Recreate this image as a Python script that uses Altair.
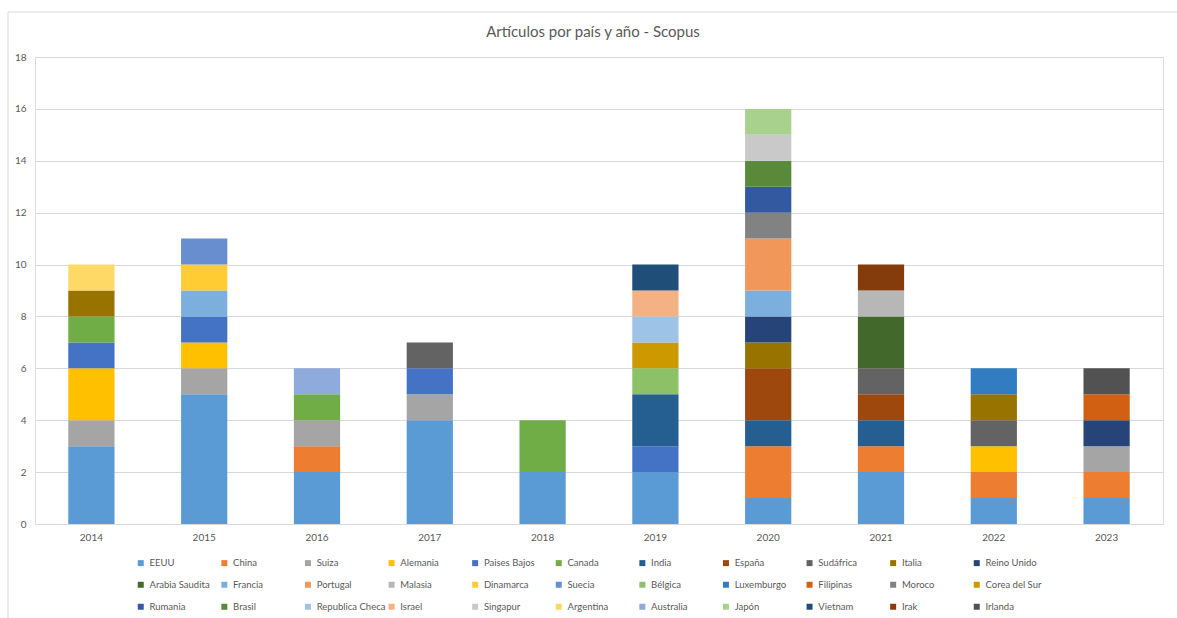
import altair as alt
import pandas as pd

years = ["2014", "2015", "2016", "2017", "2018", "2019", "2020", "2021", "2022", "2023"]

countries = [
    "EEUU", "China", "Suiza", "Alemania", "Paises Bajos", "Canada", "India", "España",
    "Sudáfrica", "Italia", "Reino Unido", "Arabia Saudita", "Francia", "Portugal",
    "Malasia", "Dinamarca", "Suecia", "Bélgica", "Luxemburgo", "Filipinas", "Moroco",
    "Corea del Sur", "Rumania", "Brasil", "Republica Checa", "Israel", "Singapur",
    "Argentina", "Australia", "Japón", "Vietnam", "Irak", "Irlanda",
]

colors = [
    "#5B9BD5", "#ED7D31", "#A5A5A5", "#FFC000", "#4472C4", "#70AD47", "#255E91", "#9E480E",
    "#636363", "#997300", "#264478", "#43682B", "#7CAFDD", "#F1975A", "#B7B7B7", "#FFCD33",
    "#698ED0", "#8CC168", "#327DC2", "#D26012", "#828282", "#CC9A00", "#335AA1", "#5A8A39",
    "#9DC3E6", "#F4B183", "#C9C9C9", "#FFD966", "#8FAADC", "#A9D18E", "#1F4E79", "#843C0C",
    "#525252",
]

# articles per country, one value per year (2014 .. 2023)
counts = {
    "EEUU":            [3, 5, 2, 4, 2, 2, 1, 2, 1, 1],
    "China":           [0, 0, 1, 0, 0, 0, 2, 1, 1, 1],
    "Suiza":           [1, 1, 1, 1, 0, 0, 0, 0, 0, 1],
    "Alemania":        [2, 1, 0, 0, 0, 0, 0, 0, 1, 0],
    "Paises Bajos":    [1, 1, 0, 1, 0, 1, 0, 0, 0, 0],
    "Canada":          [1, 0, 1, 0, 2, 0, 0, 0, 0, 0],
    "India":           [0, 0, 0, 0, 0, 2, 1, 1, 0, 0],
    "España":          [0, 0, 0, 0, 0, 0, 2, 1, 0, 0],
    "Sudáfrica":       [0, 0, 0, 1, 0, 0, 0, 1, 1, 0],
    "Italia":          [1, 0, 0, 0, 0, 0, 1, 0, 1, 0],
    "Reino Unido":     [0, 0, 0, 0, 0, 0, 1, 0, 0, 1],
    "Arabia Saudita":  [0, 0, 0, 0, 0, 0, 0, 2, 0, 0],
    "Francia":         [0, 1, 0, 0, 0, 0, 1, 0, 0, 0],
    "Portugal":        [0, 0, 0, 0, 0, 0, 2, 0, 0, 0],
    "Malasia":         [0, 0, 0, 0, 0, 0, 0, 1, 0, 0],
    "Dinamarca":       [0, 1, 0, 0, 0, 0, 0, 0, 0, 0],
    "Suecia":          [0, 1, 0, 0, 0, 0, 0, 0, 0, 0],
    "Bélgica":         [0, 0, 0, 0, 0, 1, 0, 0, 0, 0],
    "Luxemburgo":      [0, 0, 0, 0, 0, 0, 0, 0, 1, 0],
    "Filipinas":       [0, 0, 0, 0, 0, 0, 0, 0, 0, 1],
    "Moroco":          [0, 0, 0, 0, 0, 0, 1, 0, 0, 0],
    "Corea del Sur":   [0, 0, 0, 0, 0, 1, 0, 0, 0, 0],
    "Rumania":         [0, 0, 0, 0, 0, 0, 1, 0, 0, 0],
    "Brasil":          [0, 0, 0, 0, 0, 0, 1, 0, 0, 0],
    "Republica Checa": [0, 0, 0, 0, 0, 1, 0, 0, 0, 0],
    "Israel":          [0, 0, 0, 0, 0, 1, 0, 0, 0, 0],
    "Singapur":        [0, 0, 0, 0, 0, 0, 1, 0, 0, 0],
    "Argentina":       [1, 0, 0, 0, 0, 0, 0, 0, 0, 0],
    "Australia":       [0, 0, 1, 0, 0, 0, 0, 0, 0, 0],
    "Japón":           [0, 0, 0, 0, 0, 0, 1, 0, 0, 0],
    "Vietnam":         [0, 0, 0, 0, 0, 1, 0, 0, 0, 0],
    "Irak":            [0, 0, 0, 0, 0, 0, 0, 1, 0, 0],
    "Irlanda":         [0, 0, 0, 0, 0, 0, 0, 0, 0, 1],
}

y_ticks = [0, 2, 4, 6, 8, 10, 12, 14, 16, 18]

rows = []
for order, name in enumerate(countries):
    for year, n in zip(years, counts[name]):
        if n > 0:
            rows.append({"Año": year, "País": name, "Artículos": n, "orden": order})
df = pd.DataFrame(rows)

FONT = "Lato"
GREY_TXT = "#595959"
GRID = "#D9D9D9"

bars = alt.Chart(df).mark_bar().encode(
    x=alt.X(
        "Año:N",
        sort=years,
        scale=alt.Scale(paddingInner=0.59, paddingOuter=0.295),
        axis=alt.Axis(
            title=None, labelAngle=0, ticks=False, domainColor=GRID,
            labelColor=GREY_TXT, labelFontSize=10, labelPadding=8, labelFont=FONT,
        ),
    ),
    y=alt.Y(
        "Artículos:Q",
        stack="zero",
        scale=alt.Scale(domain=[0, 18], nice=False),
        axis=alt.Axis(
            title=None, values=y_ticks, ticks=False, domain=False, gridColor=GRID,
            labelColor=GREY_TXT, labelFontSize=10, labelPadding=9, labelFont=FONT,
        ),
    ),
    color=alt.Color(
        "País:N",
        scale=alt.Scale(domain=countries, range=colors),
        legend=alt.Legend(
            title=None, orient="none", legendX=101, legendY=501,
            direction="horizontal", columns=11, gridAlign="all", symbolLimit=0,
            columnPadding=0.6, rowPadding=11, symbolType="square", symbolSize=36,
            symbolStrokeWidth=0, labelFontSize=9.5, labelColor=GREY_TXT,
            labelFont=FONT, labelOffset=4, padding=0, labelLimit=200,
        ),
    ),
    order=alt.Order("orden:Q", sort="ascending"),
)

# light outline around the whole figure
frame = alt.Chart(pd.DataFrame({"f": [0]})).mark_rect(
    fill=None, stroke=GRID, strokeWidth=1
).encode(
    x=alt.value(-27), x2=alt.value(1160),
    y=alt.value(-45), y2=alt.value(580),
)

chart = alt.layer(frame, bars).properties(
    width=1128,
    height=467,
    autosize=alt.AutoSizeParams(type="none"),
    padding={"left": 35, "top": 57, "right": 14, "bottom": 94},
    title=alt.Title(
        "Artículos por país y año - Scopus",
        anchor="middle", frame="group", fontSize=15, fontWeight="normal",
        color=GREY_TXT, font=FONT, offset=16, dy=44, dx=-6,
    ),
).configure_view(stroke=None).configure(background="white")

chart.save("out.html", embed_options={"renderer": "svg", "actions": False})
